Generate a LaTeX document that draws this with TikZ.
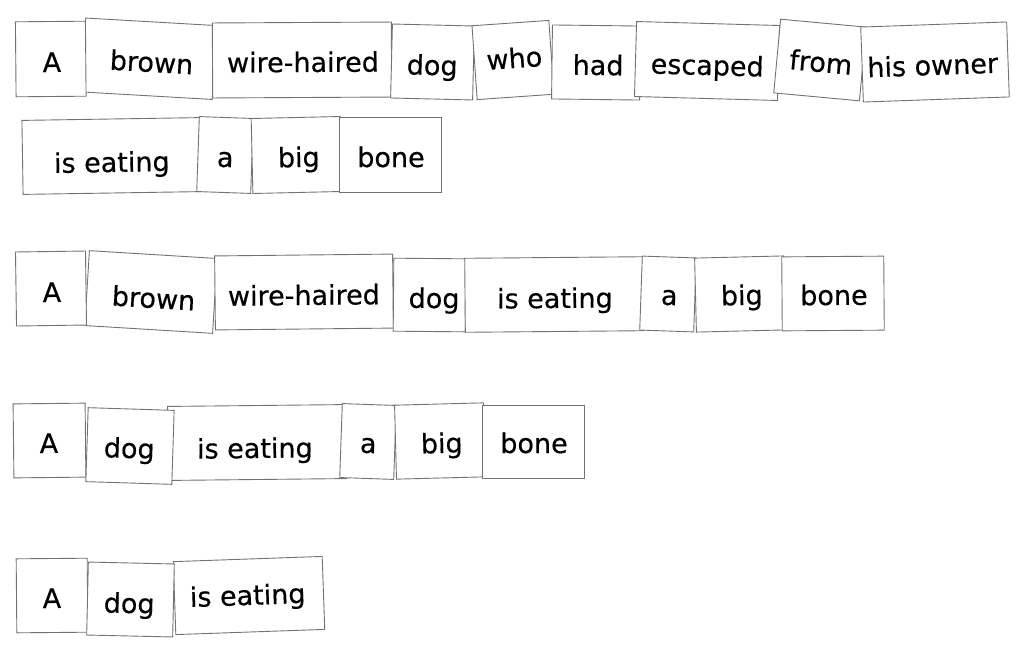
\documentclass[tikz,border=0pt]{standalone}
\usepackage{fontspec}
\setmainfont{DejaVu Sans}
\newfontfamily\wordfont[FakeBold=0.4]{DejaVu Sans}
\definecolor{boxline}{RGB}{115,115,115}
\tikzset{
  wbox/.style={draw=boxline, fill=white, line width=0.9pt, inner sep=0pt, shape=rectangle},
  wtxt/.style={anchor=base, inner sep=0pt, font=\wordfont\fontsize{27}{31}\selectfont, text=black}
}
\newcommand\wordbox[9]{%
  \node[wbox, minimum width=#4pt, minimum height=#5pt, rotate=#6] (#1) at (#2,#3) {};
  \node[wtxt, rotate=#6] (#1t) at (#8,#9) {#7};
}
\begin{document}
\begin{tikzpicture}[x=1pt,y=-1pt]
\useasboundingbox (0,0) rectangle (1024,654);
% Row 1
\wordbox{ra}{149}{58.75}{131}{74}{-3.3}{brown}{151}{72}
\wordbox{rA}{50.75}{59}{70}{75}{0.5}{A}{52}{72}
\wordbox{rc}{302}{60}{179}{75}{0.3}{wire-haired}{303}{72}
\wordbox{rd}{432.5}{62}{82}{74}{-1.4}{dog}{432}{75}
\wordbox{re}{513}{60}{77}{74}{4}{who}{515}{68}
\wordbox{rf}{596}{62.5}{88}{74}{-0.7}{had}{598}{75}
\wordbox{rg}{707}{61}{143}{75}{-1.6}{escaped}{707}{75}
\wordbox{rh}{820}{60}{86}{74}{-5.3}{from}{820}{72}
\wordbox{ri}{935}{62}{146}{75}{2}{his owner}{933}{75}
% Row 2
\wordbox{sa}{111.5}{156}{178}{74}{0.9}{is eating}{112}{172}
\wordbox{sb}{225}{155}{54}{75}{-2}{a}{225}{167}
\wordbox{sc}{296.5}{155}{89}{75}{1.3}{big}{299}{167}
\wordbox{sd}{390}{155}{102}{75}{0}{bone}{391}{167}
% Row 3
\wordbox{tb}{151}{292}{128}{75}{-3.5}{brown}{153}{308}
\wordbox{ta}{51}{288.5}{70}{74}{0.8}{A}{52}{302}
\wordbox{tc}{304}{292}{178}{74}{0.6}{wire-haired}{304}{305}
\wordbox{td}{429.5}{295}{72}{73}{-0.5}{dog}{434}{308}
\wordbox{te}{554}{294.5}{178}{74}{0.5}{is eating}{555}{308}
\wordbox{tf}{668}{294}{54}{74}{-2}{a}{669}{305}
\wordbox{tg}{740}{294}{89}{74}{1.4}{big}{742}{305}
\wordbox{th}{833}{293.5}{102}{74}{0.4}{bone}{834}{305}
% Row 4
\wordbox{ua}{49.5}{440.5}{72}{74}{0.6}{A}{49}{453}
\wordbox{uc}{257}{442.5}{178}{74}{0.6}{is eating}{255}{458}
\wordbox{ub}{130}{446}{86}{74}{-1.8}{dog}{129}{458}
\wordbox{ud}{368}{441.5}{54}{74}{-2}{a}{368}{453}
\wordbox{ue}{440}{441}{89}{74}{1.5}{big}{442}{453}
\wordbox{uf}{533.5}{441.5}{102}{73}{0}{bone}{534}{453}
% Row 5
\wordbox{va}{52}{595.5}{71}{74}{0.5}{A}{52}{608}
\wordbox{vc}{249}{595.5}{149}{73}{2}{is eating}{248}{605}
\wordbox{vb}{130.5}{599.5}{86}{73}{-1.3}{dog}{129}{613}
\end{tikzpicture}
\end{document}
